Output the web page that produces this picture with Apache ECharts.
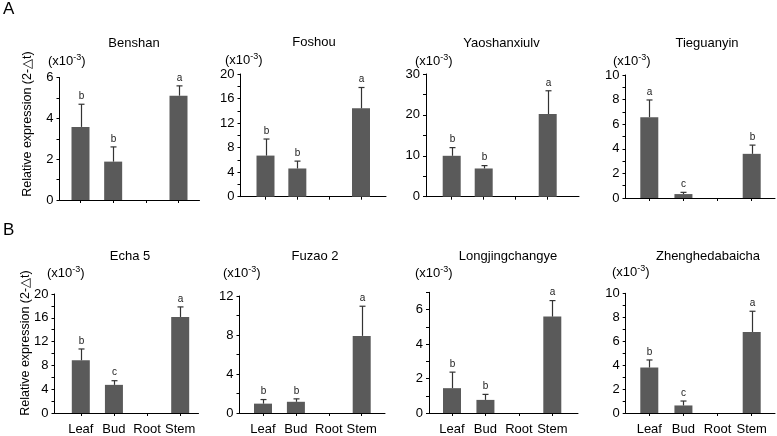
<!DOCTYPE html>
<html><head><meta charset="utf-8">
<script src="https://cdn.jsdelivr.net/npm/echarts@6/dist/echarts.min.js"></script>
<style>html,body{margin:0;padding:0;background:#fff}#c{width:777px;height:436px}</style>
</head><body><div id="c"></div>
<script>
// ---------- data ----------
const categories = ['Leaf', 'Bud', 'Root', 'Stem'];
const panelNames = ['Benshan', 'Foshou', 'Yaoshanxiulv', 'Tieguanyin', 'Echa 5', 'Fuzao 2', 'Longjingchangye', 'Zhenghedabaicha'];

const benshanMean = [3.58, 1.88, 0, 5.11];
const benshanSd = [1.11, 0.72, 0, 0.48];
const benshanLetters = ['b', 'b', '', 'a'];

const foshouMean = [6.7, 4.6, 0, 14.4];
const foshouSd = [2.7, 1.2, 0, 3.4];
const foshouLetters = ['b', 'b', '', 'a'];

const yaoshanMean = [10.0, 6.9, 0, 20.2];
const yaoshanSd = [2.0, 0.7, 0, 5.7];
const yaoshanLetters = ['b', 'b', '', 'a'];

const tieguanyinMean = [6.57, 0.32, 0, 3.59];
const tieguanyinSd = [1.4, 0.14, 0, 0.71];
const tieguanyinLetters = ['a', 'c', '', 'b'];

const echaMean = [8.86, 4.73, 0, 16.14];
const echaSd = [1.9, 0.7, 0, 1.69];
const echaLetters = ['b', 'c', '', 'a'];

const fuzaoMean = [0.96, 1.15, 0, 7.91];
const fuzaoSd = [0.42, 0.3, 0, 3.04];
const fuzaoLetters = ['b', 'b', '', 'a'];

const longjingMean = [1.44, 0.76, 0, 5.59];
const longjingSd = [0.93, 0.32, 0, 0.93];
const longjingLetters = ['b', 'b', '', 'a'];

const zhengheMean = [3.8, 0.63, 0, 6.77];
const zhengheSd = [0.63, 0.37, 0, 1.73];
const zhengheLetters = ['b', 'c', '', 'a'];

// y axis ranges / tick steps (axis values)
const yMax = [6, 20, 30, 10, 20, 12, 7, 10];
const yMajorStep = [2, 4, 10, 2, 4, 4, 2, 2];
const yMinorStep = [1, 2, 5, 1, 2, 2, 1, 1];

const panels = [
  { mean: benshanMean, sd: benshanSd, letters: benshanLetters },
  { mean: foshouMean, sd: foshouSd, letters: foshouLetters },
  { mean: yaoshanMean, sd: yaoshanSd, letters: yaoshanLetters },
  { mean: tieguanyinMean, sd: tieguanyinSd, letters: tieguanyinLetters },
  { mean: echaMean, sd: echaSd, letters: echaLetters },
  { mean: fuzaoMean, sd: fuzaoSd, letters: fuzaoLetters },
  { mean: longjingMean, sd: longjingSd, letters: longjingLetters },
  { mean: zhengheMean, sd: zhengheSd, letters: zhengheLetters }
];

// ---------- layout (pixels) ----------
// left: y-axis x, c0/c3: first/last bar centre, end: x-axis end, top: y of max, bottom: y of 0
const layout = [
  { left: 59.5, c0: 80.5, c3: 178.5, end: 199.5, top: 77.5, bottom: 200, tx: 134, ty: 43, ux: 48, uy: 61 },
  { left: 240.5, c0: 265.5, c3: 361, end: 386, top: 74, bottom: 196.7, tx: 314, ty: 42, ux: 225, uy: 60 },
  { left: 426, c0: 451.7, c3: 547.7, end: 579, top: 74, bottom: 196.7, tx: 501.5, ty: 43, ux: 415, uy: 61 },
  { left: 625.5, c0: 649.3, c3: 751.7, end: 775, top: 75, bottom: 198, tx: 707, ty: 43, ux: 613, uy: 61 },
  { left: 54.5, c0: 80.8, c3: 180.2, end: 198.5, top: 294, bottom: 416.7, tx: 130, ty: 256, ux: 47, uy: 273 },
  { left: 239.5, c0: 263, c3: 361.7, end: 385, top: 296, bottom: 417.3, tx: 315, ty: 256.5, ux: 223, uy: 273 },
  { left: 429, c0: 452, c3: 552.3, end: 578, top: 292.3, bottom: 415.7, tx: 508, ty: 256.5, ux: 415, uy: 273 },
  { left: 625.7, c0: 649.3, c3: 751.7, end: 775, top: 293.3, bottom: 416.7, tx: 708, ty: 256, ux: 612, uy: 272 }
];

const FONT = '"Liberation Sans", Arial, Helvetica, sans-serif';
const BAR = '#5a5a5a';

const grids = [], xAxes = [], yAxes = [], series = [], graphics = [];

panels.forEach((p, i) => {
  const L = layout[i];
  const bottomRow = i >= 4;
  const s = (L.c3 - L.c0) / 3;
  grids.push({ left: L.left, top: L.top, width: L.end - L.left, height: L.bottom - L.top, containLabel: false });
  xAxes.push({
    gridIndex: i, type: 'value',
    min: -(L.c0 - L.left) / s, max: 3 + (L.end - L.c3) / s,
    axisLine: { show: true, onZero: false, lineStyle: { color: '#000', width: 1 } },
    axisTick: { show: true, customValues: [0, 1, 2, 3], length: 3, lineStyle: { color: '#000' } },
    axisLabel: {
      show: bottomRow, customValues: [0, 1, 2, 3],
      formatter: v => categories[Math.round(v)] || '',
      margin: 10, fontSize: 13, color: '#000', fontFamily: FONT
    },
    splitLine: { show: false }
  });
  yAxes.push({
    gridIndex: i, type: 'value', min: 0, max: yMax[i], interval: yMinorStep[i],
    axisLine: { show: true, onZero: false, lineStyle: { color: '#000', width: 1 } },
    axisTick: { show: true, length: 3, lineStyle: { color: '#000' } },
    axisLabel: {
      formatter: v => (Math.abs(v / yMajorStep[i] - Math.round(v / yMajorStep[i])) < 1e-6 ? String(v) : ''),
      margin: 6, fontSize: 13, color: '#000', fontFamily: FONT
    },
    splitLine: { show: false }
  });
  series.push({
    type: 'bar', xAxisIndex: i, yAxisIndex: i, barWidth: 18,
    itemStyle: { color: BAR },
    data: p.mean.map((m, k) => [k, m]),
    animation: false
  });
  series.push({
    type: 'custom', xAxisIndex: i, yAxisIndex: i, clip: false, z: 3,
    data: p.mean.map((m, k) => [k, m, p.sd[k]]),
    renderItem: (params, api) => {
      const k = params.dataIndex;
      const m = api.value(1), e = api.value(2);
      if (!(m > 0)) return null;
      const a = api.coord([api.value(0), m]);
      const b = api.coord([api.value(0), m + e]);
      const x = Math.round(a[0]) + 0.5;
      const children = [
        { type: 'line', shape: { x1: x, y1: a[1], x2: x, y2: b[1] }, style: { stroke: '#333', lineWidth: 1.2 } },
        { type: 'line', shape: { x1: x - 3, y1: b[1], x2: x + 3, y2: b[1] }, style: { stroke: '#333', lineWidth: 1.2 } }
      ];
      const letter = p.letters[k];
      if (letter) {
        children.push({
          type: 'text', x: x, y: b[1] - 3,
          style: { text: letter, fontSize: 10, fontFamily: FONT, fill: '#222', align: 'center', verticalAlign: 'bottom' }
        });
      }
      return { type: 'group', children };
    },
    animation: false
  });
  graphics.push({
    type: 'text', x: L.tx, y: L.ty,
    style: { text: panelNames[i], fontSize: 13, fontFamily: FONT, fill: '#000', align: 'center', verticalAlign: 'middle' }
  });
  graphics.push({
    type: 'text', x: L.ux, y: L.uy,
    style: {
      text: '(x10{sup|-3})', fontSize: 13, fontFamily: FONT, fill: '#000', align: 'left', verticalAlign: 'middle',
      rich: { sup: { fontSize: 9, fontFamily: FONT, fill: '#000', verticalAlign: 'top', padding: [0, 0, 6, 0] } }
    }
  });
});

const yName = 'Relative expression (2-\u25B3t)';
graphics.push({ type: 'text', x: 28, y: 124, rotation: Math.PI / 2,
  style: { text: yName, fontSize: 12.5, fontFamily: FONT, fill: '#000', align: 'center', verticalAlign: 'middle' } });
graphics.push({ type: 'text', x: 26, y: 343, rotation: Math.PI / 2,
  style: { text: yName, fontSize: 12.5, fontFamily: FONT, fill: '#000', align: 'center', verticalAlign: 'middle' } });
graphics.push({ type: 'text', x: 3, y: 9,
  style: { text: 'A', fontSize: 17, fontFamily: FONT, fill: '#000', align: 'left', verticalAlign: 'middle' } });
graphics.push({ type: 'text', x: 3, y: 230,
  style: { text: 'B', fontSize: 17, fontFamily: FONT, fill: '#000', align: 'left', verticalAlign: 'middle' } });

const chart = echarts.init(document.getElementById('c'), null, { renderer: 'canvas' });
chart.setOption({
  backgroundColor: '#fff',
  animation: false,
  grid: grids, xAxis: xAxes, yAxis: yAxes, series: series,
  graphic: graphics
});
</script></body></html>
